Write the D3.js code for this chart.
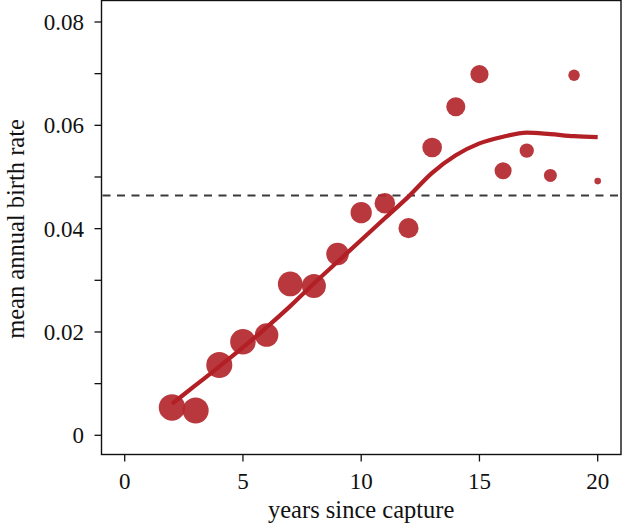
<!DOCTYPE html>
<html>
<head>
<meta charset="utf-8">
<script src="https://cdn.jsdelivr.net/npm/d3@7"></script>
<style>
  html, body { margin: 0; padding: 0; background: #fff; }
  svg { display: block; }
  text { font-family: "Liberation Serif", "Times New Roman", serif; fill: #111; }
</style>
</head>
<body>
<script>
// ---- data ----
const years = [2, 3, 4, 5, 6, 7, 8, 9, 10, 11, 12, 13, 14, 15, 16, 17, 18, 19, 20];
const birthRate = [0.0054, 0.0048, 0.0136, 0.0181, 0.0194, 0.0293, 0.0289, 0.0351, 0.0431, 0.0449, 0.0401,
                   0.0557, 0.0636, 0.0699, 0.0512, 0.0551, 0.0503, 0.0697, 0.0492];
const sampleSize = [96, 93, 93, 90, 76, 84, 79, 70, 62, 58, 55, 53, 50, 45, 40, 28, 23, 18, 6];
const fitRate = [0.0061, 0.0097, 0.0133, 0.0170, 0.0209, 0.0250, 0.0294, 0.0336, 0.0378, 0.0420, 0.0462,
                 0.0508, 0.0542, 0.0565, 0.0578, 0.0586, 0.0583, 0.0579, 0.0577];
const overallMean = 0.0464;
const xTicks = [0, 5, 10, 15, 20];
const yTicks = [0, 0.02, 0.04, 0.06, 0.08];
const yMinorTicks = [0.01, 0.03, 0.05, 0.07];
const yTickLabels = ["0", "0.02", "0.04", "0.06", "0.08"];

const W = 622, H = 526;
const frame = { left: 101.5, right: 621, top: 0.5, bottom: 454.5 };

const svg = d3.select("body").append("svg").attr("width", W).attr("height", H);

const x = d3.scaleLinear().domain([0, 20]).range([124.7, 597.7]);
const y = d3.scaleLinear().domain([0, 0.08]).range([435.3, 22]);
const r = d3.scaleSqrt().domain([0, 100]).range([0, 13.5]);

// frame
svg.append("rect")
  .attr("x", frame.left).attr("y", frame.top)
  .attr("width", frame.right - frame.left).attr("height", frame.bottom - frame.top)
  .attr("fill", "none").attr("stroke", "#111").attr("stroke-width", 1.4);

// dashed mean line
svg.append("line")
  .attr("x1", frame.left + 1).attr("x2", frame.right - 1)
  .attr("y1", y(overallMean)).attr("y2", y(overallMean))
  .attr("stroke", "#3a3a3a").attr("stroke-width", 2)
  .attr("stroke-dasharray", "8,6.5");

// points
svg.append("g").selectAll("circle")
  .data(years.map((d, i) => ({ x: d, y: birthRate[i], n: sampleSize[i] })))
  .join("circle")
  .attr("cx", d => x(d.x)).attr("cy", d => y(d.y)).attr("r", d => r(d.n))
  .attr("fill", "#b3272d").attr("fill-opacity", 0.92);

// fitted line
const line = d3.line().x(d => x(d[0])).y(d => y(d[1])).curve(d3.curveMonotoneX);
svg.append("path")
  .datum(years.map((d, i) => [d, fitRate[i]]))
  .attr("d", line)
  .attr("fill", "none").attr("stroke", "#b22026").attr("stroke-width", 4.2);

// y axis ticks
const yAxis = svg.append("g");
yAxis.selectAll("line.maj").data(yTicks).join("line").attr("class", "maj")
  .attr("x1", frame.left - 7).attr("x2", frame.left)
  .attr("y1", d => y(d)).attr("y2", d => y(d))
  .attr("stroke", "#111").attr("stroke-width", 1.3);
yAxis.selectAll("line.min").data(yMinorTicks).join("line").attr("class", "min")
  .attr("x1", frame.left - 7).attr("x2", frame.left)
  .attr("y1", d => y(d)).attr("y2", d => y(d))
  .attr("stroke", "#111").attr("stroke-width", 1.3);
yAxis.selectAll("text").data(yTicks).join("text")
  .attr("x", 84).attr("y", d => y(d) + 8)
  .attr("text-anchor", "end").attr("font-size", 23)
  .text((d, i) => yTickLabels[i]);

// x axis ticks
const xAxis = svg.append("g");
xAxis.selectAll("line").data(xTicks).join("line")
  .attr("x1", d => x(d)).attr("x2", d => x(d))
  .attr("y1", frame.bottom).attr("y2", frame.bottom + 7)
  .attr("stroke", "#111").attr("stroke-width", 1.3);
xAxis.selectAll("text").data(xTicks).join("text")
  .attr("x", d => x(d)).attr("y", 488.5)
  .attr("text-anchor", "middle").attr("font-size", 23)
  .text(d => d);

// axis titles
svg.append("text")
  .attr("x", x(10)).attr("y", 518)
  .attr("text-anchor", "middle").attr("font-size", 24.5)
  .text("years since capture");
svg.append("text")
  .attr("transform", "translate(23.5,229) rotate(-90)")
  .attr("text-anchor", "middle").attr("font-size", 24.5)
  .text("mean annual birth rate");
</script>
</body>
</html>
